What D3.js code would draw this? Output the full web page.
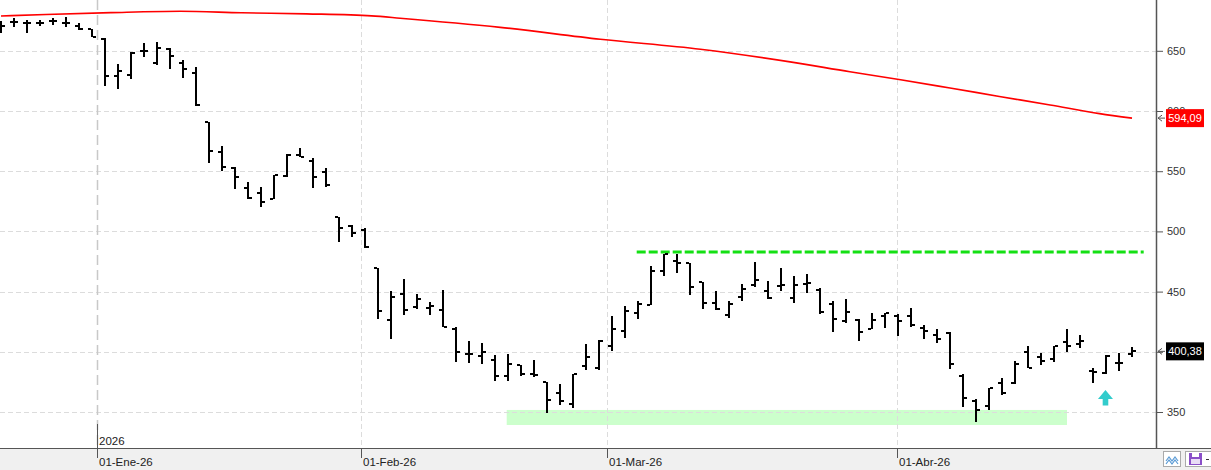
<!DOCTYPE html>
<html><head><meta charset="utf-8">
<script src="https://cdn.jsdelivr.net/npm/d3@7"></script>
<style>html,body{margin:0;padding:0;background:#fff;overflow:hidden}</style>
</head><body>
<svg id="c" width="1211" height="470"></svg>
<script>
// ---- data ----
const opens  = [670.8,674.2,672.9,673.1,674.5,672.9,670.6,667.9,659.8,628.8,630.2,650.1,639.9,651.3,640.1,631.8,591.1,565.7,552.7,535.8,531.7,526.9,546.3,563.5,558.5,549.6,511.7,504.5,501.2,469.4,426.2,447.8,437.0,436.6,434.7,418.7,397.9,396.5,392.9,380.2,389.0,381.6,374.7,365.5,356.6,388.2,386.5,404.6,417.3,432.0,438.6,466.9,475.2,473.8,457.7,440.5,430.3,445.3,455.2,450.3,454.4,444.4,456.6,451.3,439.5,425.3,426.4,419.2,429.7,429.7,429.7,420.0,414.2,415.9,379.9,359.1,355.0,373.8,374.3,400.1,395.9,393.8,407.9,406.5,383.8,382.1,390.5,398.2];
const highs  = [675.0,677.0,675.6,675.6,677.0,677.8,673.4,667.9,660.9,638.8,648.8,656.7,657.3,652.1,642.4,636.3,591.1,570.9,553.2,541.0,536.6,547.1,564.0,569.0,560.7,552.4,511.7,505.3,502.6,469.4,450.5,460.2,447.8,441.1,451.1,420.8,408.7,407.1,397.1,397.9,389.0,392.9,374.7,373.3,381.3,406.5,409.6,429.7,438.0,442.2,471.3,481.2,481.2,474.0,457.7,450.3,441.9,456.1,474.3,458.6,469.4,462.7,464.4,452.7,441.9,443.6,427.0,432.0,432.0,431.4,436.1,422.0,418.7,416.7,381.8,360.8,370.2,378.0,392.6,405.1,398.8,404.8,418.9,414.0,386.3,397.3,399.3,403.7];
const lows   = [664.5,670.0,665.0,670.6,671.4,670.0,667.3,661.2,620.8,618.5,626.8,644.6,638.5,635.1,627.7,604.2,556.6,550.4,535.0,526.7,520.0,526.7,545.4,561.6,536.3,536.6,491.5,495.6,486.5,427.0,410.9,430.8,435.3,430.8,420.6,391.8,390.9,389.6,375.5,375.5,379.9,379.1,348.9,356.1,353.6,385.1,384.6,400.9,411.7,427.5,438.6,463.2,465.7,447.4,435.3,434.7,428.3,442.4,454.1,443.6,450.3,440.3,449.1,431.1,416.7,423.7,409.2,418.7,420.0,413.4,420.4,410.9,407.6,386.0,354.4,341.9,351.9,364.4,373.3,386.3,389.0,391.8,400.1,402.9,373.8,381.6,384.1,395.9];
const closes = [670.8,674.2,672.9,673.1,675.0,672.9,668.4,661.2,628.8,633.0,647.9,650.1,652.1,645.9,634.6,604.7,566.5,553.7,544.9,528.0,524.2,547.1,563.5,561.6,544.9,538.3,502.8,498.4,487.0,433.6,445.3,434.7,443.6,437.8,420.8,399.6,397.9,399.6,380.2,389.6,381.6,381.0,359.7,358.9,381.3,395.4,409.0,418.7,433.9,439.5,466.9,481.2,473.5,453.6,440.5,435.3,439.5,451.9,459.4,444.9,455.2,455.2,456.9,432.8,427.0,432.8,416.2,426.2,432.0,425.3,422.3,417.0,410.4,389.6,361.6,351.7,370.2,366.0,389.6,386.8,392.6,404.8,404.8,409.0,383.0,396.8,390.5,400.38];

// moving average (red) read at sample bar positions
const maIdx = [0,3.46,8.46,13.8,18.5,23.5,28.5,30.7,38.4,46.1,53.8,60.7,65.3,69.2,73.0,76.8,80.7,84.5,87];
const maVal = [678.9,680.2,681.7,682.8,681.6,680.7,679.0,677.1,669.5,659.6,651.3,640.8,632.6,626.0,619.1,612.1,605.0,597.8,594.09];

const yTicks = [350,400,450,500,550,600,650];
const monthIdx = [7.38,27.67,46.64,68.95];
const monthLabels = ["01-Ene-26","01-Feb-26","01-Mar-26","01-Abr-26"];
const yearLabel = "2026";
const resistance = [{i0:48.9, i1:87.9, v:482.9}];
const supportZone = [{i0:38.9, i1:82.0, v0:339.2, v1:351.7}];
const lastPrice = 400.38, maLast = 594.09;
const signalArrow = [{i:84.96, v:368.3}];

// ---- drawing ----
const svg = d3.select("#c");
const W = 1211, H = 470, axisX = 1156, plotB = 448;
const x = d3.scaleLinear().domain([0,87]).range([1,1132]);
const y = d3.scaleLinear().domain([320.1,692.2]).range([plotB,0]);
const fmt = v => d3.format(".2f")(v).replace(".", ",");

svg.append("rect").attr("width",W).attr("height",H).attr("fill","#fff");
svg.append("clipPath").attr("id","pc").append("rect").attr("x",0).attr("y",0).attr("width",axisX).attr("height",plotB);
const g = svg.append("g").attr("clip-path","url(#pc)");

// support zone
g.selectAll(".zone").data(supportZone).join("rect")
  .attr("x",d=>x(d.i0)).attr("width",d=>x(d.i1)-x(d.i0))
  .attr("y",d=>y(d.v1)).attr("height",d=>y(d.v0)-y(d.v1))
  .attr("fill","#ccffcc");

// horizontal grid
g.selectAll(".hg").data(yTicks).join("line")
  .attr("x1",0).attr("x2",axisX)
  .attr("y1",d=>Math.round(y(d))+0.5).attr("y2",d=>Math.round(y(d))+0.5)
  .attr("stroke","#dcdcdc").attr("stroke-width",1).attr("stroke-dasharray","5,3");

// vertical grid at months
g.selectAll(".vg").data(monthIdx).join("line")
  .attr("x1",d=>Math.round(x(d))+0.5).attr("x2",d=>Math.round(x(d))+0.5)
  .attr("y1",0).attr("y2",plotB)
  .attr("stroke",(d,i)=>i===0?"#c8c8c8":"#dcdcdc").attr("stroke-width",(d,i)=>i===0?1.5:1)
  .attr("stroke-dasharray",(d,i)=>i===0?"10,5":"5,3");

// MA line
const maPts = maIdx.map((d,i)=>({i:d,v:maVal[i]}));
g.append("path").datum(maPts)
  .attr("d", d3.line().x(d=>x(d.i)).y(d=>y(d.v)).curve(d3.curveMonotoneX))
  .attr("fill","none").attr("stroke","#ff0000").attr("stroke-width",1.6);

// resistance
g.selectAll(".res").data(resistance).join("line")
  .attr("x1",d=>x(d.i0)).attr("x2",d=>x(d.i1))
  .attr("y1",d=>y(d.v)).attr("y2",d=>y(d.v))
  .attr("stroke","#14e014").attr("stroke-width",3).attr("stroke-dasharray","9,3");

// OHLC bars
const bars = opens.map((o,i)=>({i,o,h:highs[i],l:lows[i],c:closes[i]}));
const bg = g.append("g").attr("fill","#000").attr("shape-rendering","crispEdges");
bars.forEach(d=>{
  const cx = Math.round(x(d.i));
  const yh = y(d.h), yl = y(d.l);
  bg.append("rect").attr("x",cx-1).attr("width",2).attr("y",yh).attr("height",Math.max(1,yl-yh));
  bg.append("rect").attr("x",cx-4).attr("width",3).attr("y",y(d.o)-1).attr("height",2);
  bg.append("rect").attr("x",cx+1).attr("width",3).attr("y",y(d.c)-1).attr("height",2);
});

// signal arrow
g.selectAll(".arr").data(signalArrow).join("path")
  .attr("d",d=>{const cx=x(d.i), ty=y(d.v);
    return `M${cx},${ty} L${cx+7.5},${ty+9} L${cx+2.8},${ty+9} L${cx+2.8},${ty+15.5} L${cx-2.8},${ty+15.5} L${cx-2.8},${ty+9} L${cx-7.5},${ty+9} Z`;})
  .attr("fill","#33cccc");

// bottom band
svg.append("rect").attr("x",0).attr("y",plotB).attr("width",W).attr("height",H-plotB).attr("fill","#f0f0f0");
svg.append("line").attr("x1",0).attr("x2",W).attr("y1",plotB+0.5).attr("y2",plotB+0.5).attr("stroke","#555").attr("stroke-width",1.2);

// month ticks and labels
svg.selectAll(".mt").data(monthIdx).join("line")
  .attr("x1",d=>Math.round(x(d))+0.5).attr("x2",d=>Math.round(x(d))+0.5)
  .attr("y1",(d,i)=>i===0?424:plotB).attr("y2",458)
  .attr("stroke","#555").attr("stroke-width",1);
svg.selectAll(".ml").data(monthIdx).join("text")
  .attr("x",d=>Math.round(x(d))+2).attr("y",466)
  .attr("font-family","'Liberation Sans', Arial, sans-serif").attr("font-size",11.5).attr("fill","#222")
  .text((d,i)=>monthLabels[i]);
svg.append("text").attr("x",Math.round(x(monthIdx[0]))+2).attr("y",445)
  .attr("font-family","'Liberation Sans', Arial, sans-serif").attr("font-size",11.5).attr("fill","#222")
  .text(yearLabel);

// right axis
const ax = svg.append("g").attr("transform",`translate(${axisX},0)`);
const minor = d3.range(0,46).map(k=>325+k*50/6).filter(v=>v<692 && Math.abs(((v-350)%50+50)%50)>0.5 && Math.abs(((v-350)%50+50)%50-50)>0.5);
ax.call(d3.axisRight(y).tickValues(minor).tickSize(5).tickFormat("")).call(a=>a.select(".domain").remove());
// labels fully hidden under the last-price tag are not drawn (as in the reference)
const labelFmt = d => Math.abs(y(d)-y(lastPrice))<9 ? "" : d3.format("d")(d);
ax.call(d3.axisRight(y).tickValues(yTicks).tickSize(7).tickPadding(4).tickFormat(labelFmt))
  .call(a=>a.select(".domain").remove());
ax.selectAll("line").attr("stroke","#555");
ax.selectAll("text").attr("font-family","'Liberation Sans', Arial, sans-serif").attr("font-size",11).attr("fill","#333");
ax.append("line").attr("x1",0.5).attr("x2",0.5).attr("y1",0).attr("y2",plotB).attr("stroke","#555").attr("stroke-width",1.5);

// price tags
function tag(v, fill){
  const ty = y(v);
  const t = svg.append("g");
  t.append("path").attr("d",`M${axisX+2},${ty} l4,-3 M${axisX+2},${ty} l4,3 M${axisX+2},${ty} l7,0`)
    .attr("stroke","#555").attr("stroke-width",1).attr("fill","none");
  t.append("rect").attr("x",1166).attr("y",ty-9).attr("width",38).attr("height",18).attr("fill",fill);
  t.append("text").attr("x",1185).attr("y",ty+4).attr("text-anchor","middle")
    .attr("font-family","'Liberation Sans', Arial, sans-serif").attr("font-size",11).attr("fill","#fff")
    .text(fmt(v));
}
tag(maLast,"#ff0000");
tag(lastPrice,"#000000");

// bottom-right icons
const ic = svg.append("g");
ic.append("rect").attr("x",1163.5).attr("y",451.5).attr("width",17).attr("height",15).attr("fill","#fff").attr("stroke","#aaa");
ic.append("path").attr("d","M1166,461 l3,-4 l3,4 l3,-4 l3,4 M1166,464 l3,-4 l3,4 l3,-4 l3,4")
  .attr("fill","none").attr("stroke","#5b9bd5").attr("stroke-width",1.2);
ic.append("rect").attr("x",1185.5).attr("y",451.5).attr("width",27).attr("height",15).attr("fill","#fff").attr("stroke","#aaa");
ic.append("rect").attr("x",1189).attr("y",453).attr("width",13).attr("height",12).attr("fill","#8a4fc8");
ic.append("rect").attr("x",1192).attr("y",453).attr("width",7).attr("height",4).attr("fill","#fff");
ic.append("rect").attr("x",1191).attr("y",459).attr("width",9).attr("height",5).attr("fill","#e8dcf5");
ic.append("line").attr("x1",1206).attr("x2",1209).attr("y1",459.5).attr("y2",459.5).attr("stroke","#333");
</script>
</body></html>
